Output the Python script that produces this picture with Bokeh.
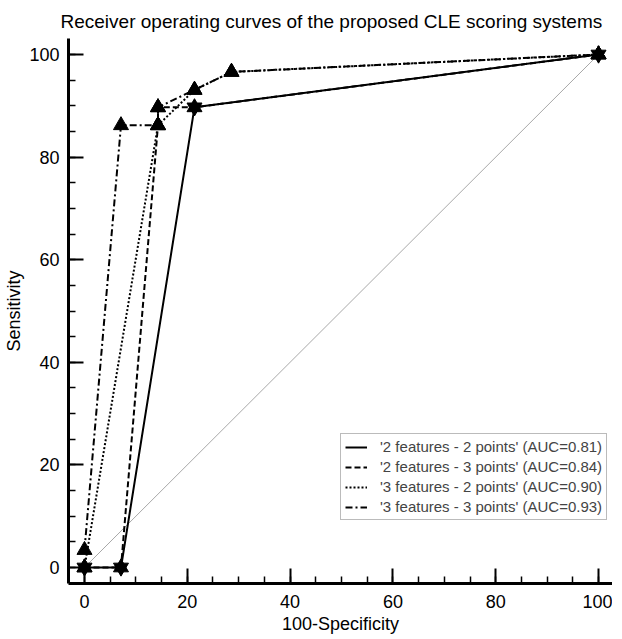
from bokeh.plotting import figure
from bokeh.models import Range1d, Legend, LegendItem, SingleIntervalTicker
from bokeh.embed import file_html
from bokeh.resources import INLINE

# Data (100-Specificity, Sensitivity)
fpr_22 = [0, 7.1, 21.4, 100]
sens_22 = [0, 0, 89.7, 100]

fpr_23 = [0, 7.1, 14.3, 14.3, 21.4, 100]
sens_23 = [0, 0, 86.2, 89.7, 89.7, 100]

fpr_32 = [0, 14.3, 21.4, 28.6, 100]
sens_32 = [0, 86.2, 93.1, 96.6, 100]

fpr_33 = [0, 7.1, 14.3, 14.3, 21.4, 28.6, 100]
sens_33 = [3.4, 86.2, 86.2, 89.7, 93.1, 96.6, 100]

labels = ["'2 features - 2 points' (AUC=0.81)",
          "'2 features - 3 points' (AUC=0.84)",
          "'3 features - 2 points' (AUC=0.90)",
          "'3 features - 3 points' (AUC=0.93)"]
ref_x = [0, 100]
ref_y = [0, 100]
tick_interval = 20

FONT = "Liberation Sans"
X0, X1 = -3.11, 102.72
Y0, Y1 = -3.12, 103.12

p = figure(frame_width=544, frame_height=545, output_backend="svg", toolbar_location=None,
           x_range=Range1d(X0, X1), y_range=Range1d(Y0, Y1),
           min_border_left=68, min_border_right=0, min_border_top=38, min_border_bottom=40)
p.title.text = "Receiver operating curves of the proposed CLE scoring systems"
p.title.align = "left"
p.title.offset = -8
p.title.text_font = FONT
p.title.text_font_size = "19px"
p.title.text_font_style = "normal"
p.title.text_color = "black"
p.title.standoff = 14

# keep grid and outline in place (as in the working test) but invisible
p.outline_line_alpha = 0
p.grid.grid_line_alpha = 0

p.line(ref_x, ref_y, line_color="#a8a8a8", line_width=1)

r1 = p.line(fpr_22, sens_22, line_color="black", line_width=2)
r2 = p.line(fpr_23, sens_23, line_color="black", line_width=2, line_dash="6 3")
r3 = p.line(fpr_32, sens_32, line_color="black", line_width=2, line_dash="2 2")
r4 = p.line(fpr_33, sens_33, line_color="black", line_width=2, line_dash="7 3 2 3")

p.scatter(fpr_23, sens_23, marker="triangle", size=15, fill_color="black", line_color="black")
p.scatter(fpr_32, sens_32, marker="triangle", size=15, fill_color="black", line_color="black")
p.scatter(fpr_33, sens_33, marker="triangle", size=15, fill_color="black", line_color="black")
p.scatter(fpr_22, sens_22, marker="inverted_triangle", size=15, fill_color="black", line_color="black")

p.xaxis.ticker = SingleIntervalTicker(interval=tick_interval, num_minor_ticks=4)
p.yaxis.ticker = SingleIntervalTicker(interval=tick_interval, num_minor_ticks=4)
p.xaxis.major_tick_in = 15
p.xaxis.major_tick_out = 1
p.yaxis.major_tick_in = 15
p.yaxis.major_tick_out = 1
p.xaxis.minor_tick_in = 7
p.xaxis.minor_tick_out = 1
p.yaxis.minor_tick_in = 7
p.yaxis.minor_tick_out = 1
p.xaxis.major_tick_line_width = 2
p.yaxis.major_tick_line_width = 2
p.xaxis.minor_tick_line_width = 1.5
p.yaxis.minor_tick_line_width = 1.5
p.xaxis.major_tick_line_color = "black"
p.yaxis.major_tick_line_color = "black"
p.xaxis.minor_tick_line_color = "black"
p.yaxis.minor_tick_line_color = "black"
p.xaxis.axis_line_width = 3
p.yaxis.axis_line_width = 3
p.xaxis.axis_line_color = "black"
p.yaxis.axis_line_color = "black"

p.xaxis.major_label_text_font = FONT
p.yaxis.major_label_text_font = FONT
p.xaxis.major_label_text_font_size = "18px"
p.yaxis.major_label_text_font_size = "18px"
p.xaxis.major_label_text_color = "black"
p.yaxis.major_label_text_color = "black"
p.xaxis.axis_label_text_font = FONT
p.yaxis.axis_label_text_font = FONT
p.xaxis.axis_label_text_font_size = "18px"
p.yaxis.axis_label_text_font_size = "18px"
p.xaxis.axis_label_text_font_style = "normal"
p.yaxis.axis_label_text_font_style = "normal"
p.xaxis.axis_label_text_color = "black"
p.yaxis.axis_label_text_color = "black"

p.xaxis.axis_label = "100-Specificity"
p.yaxis.axis_label = "Sensitivity"
p.xaxis.major_label_standoff = 10
p.yaxis.major_label_standoff = 8
p.xaxis.axis_label_standoff = 3
p.yaxis.axis_label_standoff = 2

legend = Legend(items=[LegendItem(label=labels[0], renderers=[r1]),
                       LegendItem(label=labels[1], renderers=[r2]),
                       LegendItem(label=labels[2], renderers=[r3]),
                       LegendItem(label=labels[3], renderers=[r4])],
                location=(272, 63))
legend.label_text_font = FONT
legend.label_text_font_size = "15px"
legend.label_height = 16
legend.glyph_height = 16
legend.glyph_width = 22
legend.label_standoff = 13
legend.spacing = 3
legend.padding = 4
legend.margin = 0
legend.border_line_color = "#777777"
legend.border_line_width = 1.5
legend.background_fill_alpha = 1
p.add_layout(legend)

open("out.html", "w").write(file_html(p, INLINE))
